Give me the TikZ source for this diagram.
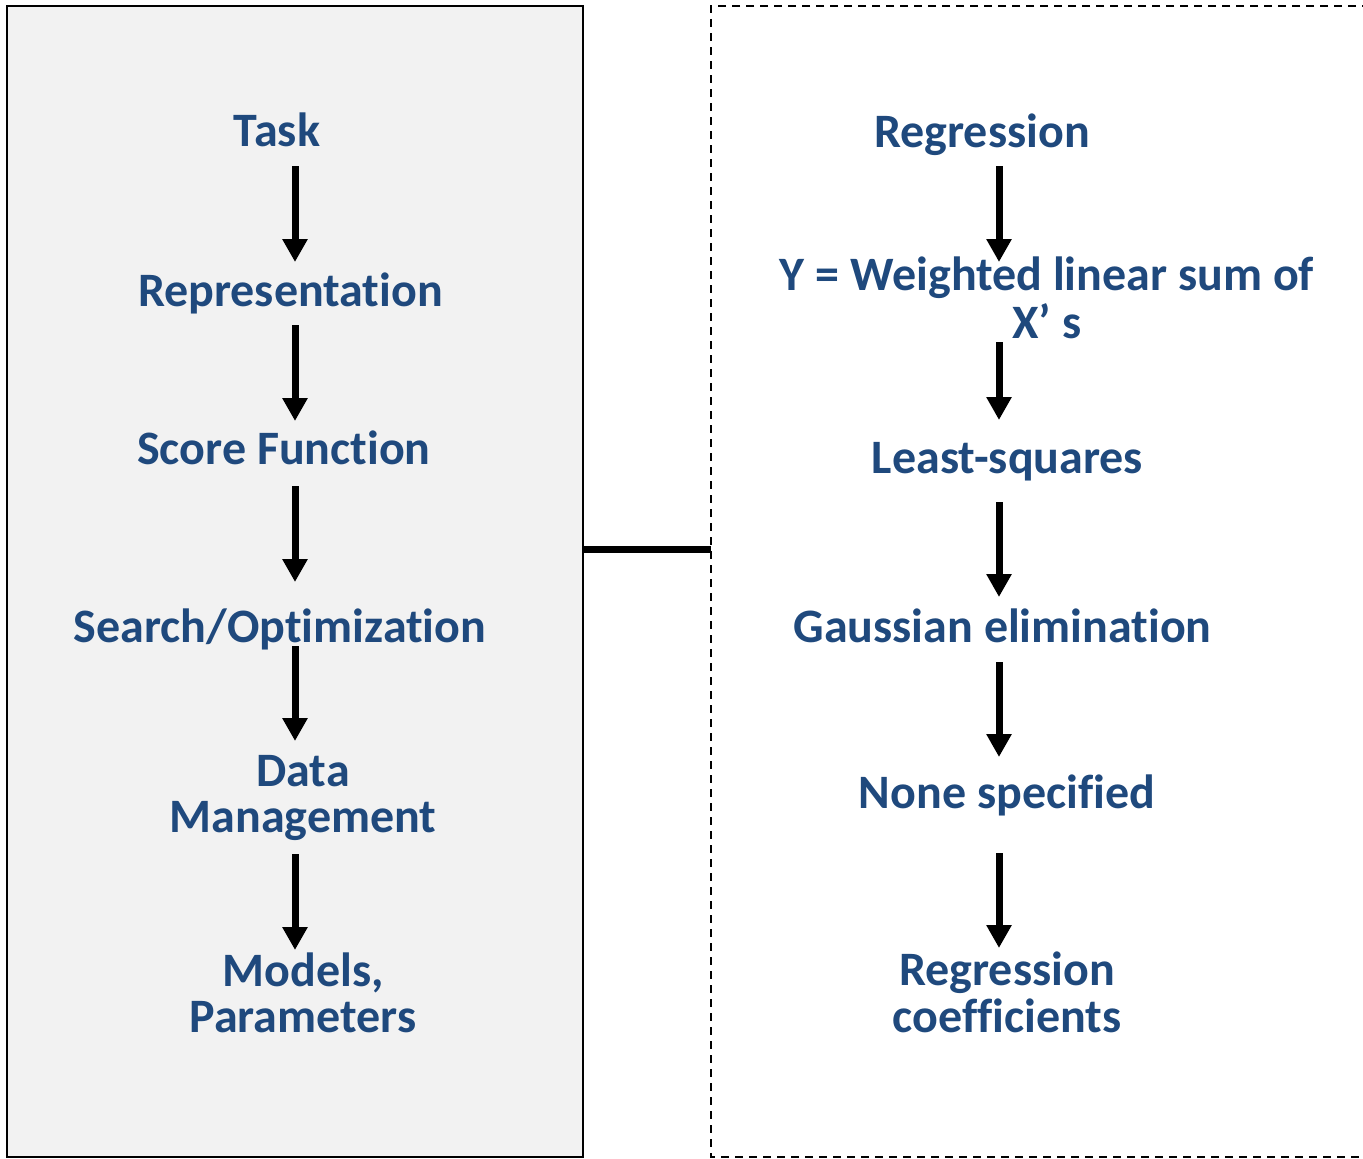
\documentclass[tikz,border=0pt]{standalone}
\usepackage{fontspec}
\setmainfont{Carlito}[Ligatures=NoCommon]
\usetikzlibrary{arrows.meta}
\definecolor{txtblue}{RGB}{31,73,125}
\definecolor{panelgray}{RGB}{242,242,242}
\tikzset{
  lbl/.style={anchor=base, inner sep=0pt, text=txtblue, font=\fontsize{48}{46}\selectfont\bfseries},
  flow/.style={line width=7pt, -{Triangle[width=24pt,length=23pt]}},
  solidpanel/.style={draw=black, line width=2pt, fill=panelgray, inner sep=0pt},
}
\newcommand{\twoline}[2]{\begin{tabular}[t]{@{}c@{}}#1\\#2\end{tabular}}
\begin{document}
\begin{tikzpicture}[x=1pt,y=-1pt]
\useasboundingbox (0,0) rectangle (1363,1159);
% panels
\node[solidpanel, minimum width=576pt, minimum height=1151pt] (leftbox) at (295,581.5) {};
\draw[black, line width=2pt, dash pattern=on 8pt off 6pt] (1370,6) -- (711,6) -- (711,1157) -- (1370,1157);
\coordinate (rightwest) at (711,549);
\coordinate (lx) at (295,0);
\coordinate (rx) at (999,0);
% connector
\draw[line width=7pt] (leftbox.east |- rightwest) -- (rightwest);
% left column
\node[lbl] (task) at (277,146) {Task};
\node[lbl] (rep) at (290.5,306) {Representation};
\node[lbl] (score) at (284,464) {Score Function};
\node[lbl] (search) at (280,642) {Search/Optimization};
\node[lbl] (data) at (303,786) {\twoline{Data}{Management}};
\node[lbl] (models) at (303,986) {\twoline{Models,}{Parameters}};
% right column
\node[lbl] (regr) at (982,147) {Regression};
\node[lbl] (ysum) at (1047,290) {\twoline{Y = Weighted linear sum of}{X’ s}};
\node[lbl] (lsq) at (1007.5,473) {Least-squares};
\node[lbl] (gauss) at (1002.5,642) {Gaussian elimination};
\node[lbl] (none) at (1007,808) {None specified};
\node[lbl] (coef) at (1007,985) {\twoline{Regression}{coefficients}};
% left arrows
\draw[flow, shorten <=20pt, shorten >=44pt] (task.base -| lx) -- (rep.base -| lx);
\draw[flow, shorten <=19pt, shorten >=43pt] (rep.base -| lx) -- (score.base -| lx);
\draw[flow, shorten <=22pt, shorten >=60pt] (score.base -| lx) -- (search.base -| lx);
\draw[flow, shorten <=4pt, shorten >=45pt] (search.base -| lx) -- (data.base -| lx);
\draw[flow, shorten <=68pt, shorten >=36pt] (data.base -| lx) -- (models.base -| lx);
% right arrows
\draw[flow, shorten <=19pt, shorten >=28pt] (regr.base -| rx) -- (ysum.base -| rx);
\draw[flow, shorten <=52pt, shorten >=53pt] (ysum.base -| rx) -- (lsq.base -| rx);
\draw[flow, shorten <=29pt, shorten >=45pt] (lsq.base -| rx) -- (gauss.base -| rx);
\draw[flow, shorten <=20pt, shorten >=51pt] (gauss.base -| rx) -- (none.base -| rx);
\draw[flow, shorten <=45pt, shorten >=37pt] (none.base -| rx) -- (coef.base -| rx);
\end{tikzpicture}
\end{document}
